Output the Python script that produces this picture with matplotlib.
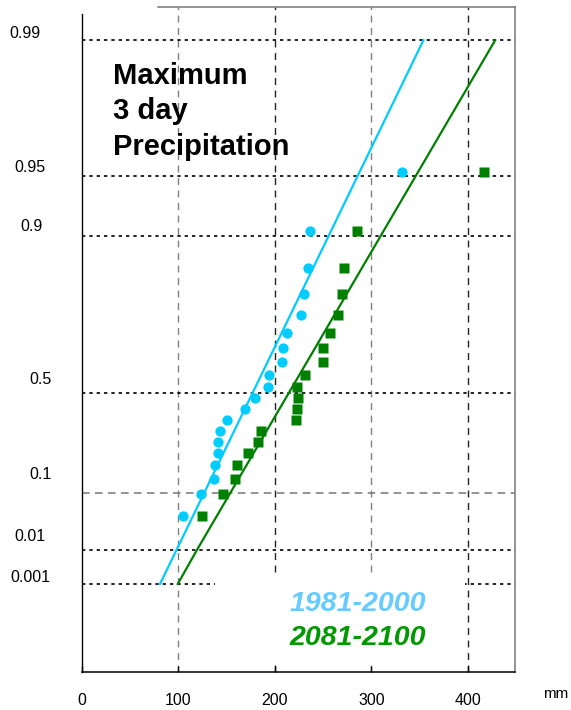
import numpy as np
import matplotlib.pyplot as plt
from matplotlib.patches import Rectangle

plt.rcParams['font.family'] = ['Liberation Sans', 'DejaVu Sans']

# annual maximum 3-day precipitation (mm), ranked, with plotting positions
prob = [0.048, 0.095, 0.143, 0.190, 0.238, 0.286, 0.333, 0.381, 0.429, 0.476,
        0.524, 0.571, 0.619, 0.667, 0.714, 0.762, 0.810, 0.857, 0.905, 0.952]
precip_1981 = [105.0, 123.0, 136.5, 137.8, 140.6, 140.6, 143.0, 150.3, 168.9, 179.0,
               193.1, 194.1, 207.6, 208.0, 212.7, 226.6, 230.4, 234.5, 236.6, 331.9]
precip_2081 = [124.7, 146.5, 159.0, 161.1, 172.5, 182.9, 185.2, 222.3, 223.3, 223.7,
               223.3, 231.6, 250.3, 250.3, 257.6, 265.9, 270.0, 272.1, 285.6, 416.5]

# fitted distribution lines
fit_p_1981 = [0.001, 0.99]
fit_x_1981 = [80.9, 354.0]
fit_p_2081 = [0.001, 0.01, 0.99]
fit_x_2081 = [99.3, 119.0, 428.4]

prob_ticks = [0.99, 0.95, 0.9, 0.5, 0.1, 0.01, 0.001]
prob_labels = ['0.99', '0.95', '0.9', '0.5', '0.1', '0.01', '0.001']
mm_ticks = [0, 100, 200, 300, 400]

BLUE = '#00CCFF'
GREEN = '#008000'


def gumbel(p):
    # Gumbel reduced variate
    return -np.log(-np.log(np.asarray(p, dtype=float)))


fig = plt.figure(figsize=(5.71, 7.10), dpi=100)
ax = fig.add_axes([82 / 571, 38 / 710, 433 / 571, 665 / 710])
ax.set_xlim(0, 449)
ax.set_ylim(-2.99, 5.0)

# grid
for xv, c in zip([100, 200, 300, 400], ['#808080', '#222222', '#808080', '#222222']):
    ax.axvline(xv, color=c, lw=1.0, dashes=(5, 4), zorder=1)
for p in prob_ticks:
    if p == 0.1:
        ax.axhline(gumbel(p), color='#777777', lw=1.1, dashes=(5, 3.5), zorder=1)
    else:
        ax.axhline(gumbel(p), color='black', lw=1.2, dashes=(2, 2.4), zorder=1)

# white backing for the period labels
ax.add_patch(Rectangle((0.307, 0.012), 0.578, 0.135, transform=ax.transAxes,
                       facecolor='white', edgecolor='none', zorder=2))

ax.plot(fit_x_1981, gumbel(fit_p_1981), color=BLUE, lw=1.6, zorder=3)
ax.plot(fit_x_2081, gumbel(fit_p_2081), color=GREEN, lw=1.6, zorder=3)
ax.plot(precip_1981, gumbel(prob), 'o', color=BLUE, ms=7.4, mec='none', zorder=4)
ax.plot(precip_2081, gumbel(prob), 's', color=GREEN, ms=6.5, mec='none', zorder=4)

# axes frame
for side in ['top', 'right']:
    ax.spines[side].set_color('#777777')
    ax.spines[side].set_linewidth(1.1)
ax.spines['left'].set_linewidth(1.0)
ax.spines['bottom'].set_linewidth(1.1)
ax.spines['top'].set_bounds(79, 449)
ax.spines['left'].set_bounds(-2.99, 4.92)

ax.set_xticks(mm_ticks)
ax.tick_params(axis='x', direction='in', length=4.5, width=1.0, pad=15, labelsize=11.5)
ax.set_yticks([])

# probability labels sit just above their grid lines
label_dx = [-57, -52, -50.5, -41, -41, -52, -52]
label_dy = [7, 8, 9, 13, 18, 14, 6]
for p, lab, dx, dy in zip(prob_ticks, prob_labels, label_dx, label_dy):
    ax.annotate(lab, xy=(0, gumbel(p)), xycoords=('axes fraction', 'data'),
                xytext=(dx, dy), textcoords='offset pixels',
                ha='center', va='center', fontsize=11.5)

fig.text(556 / 571, 1 - 694 / 710, 'mm', ha='center', va='center', fontsize=11)

ax.text(0.072, 0.918, 'Maximum\n3 day\nPrecipitation', transform=ax.transAxes,
        ha='left', va='top', fontsize=21, fontweight='bold', linespacing=1.36, zorder=5)

ax.text(0.636, 0.1023, '1981-2000', transform=ax.transAxes, ha='center', va='center',
        fontsize=20.5, fontweight='bold', fontstyle='italic', color='#66CCFF', zorder=5)
ax.text(0.636, 0.0511, '2081-2100', transform=ax.transAxes, ha='center', va='center',
        fontsize=20.5, fontweight='bold', fontstyle='italic', color='#009900', zorder=5)

fig.savefig('out.png', dpi=100)
